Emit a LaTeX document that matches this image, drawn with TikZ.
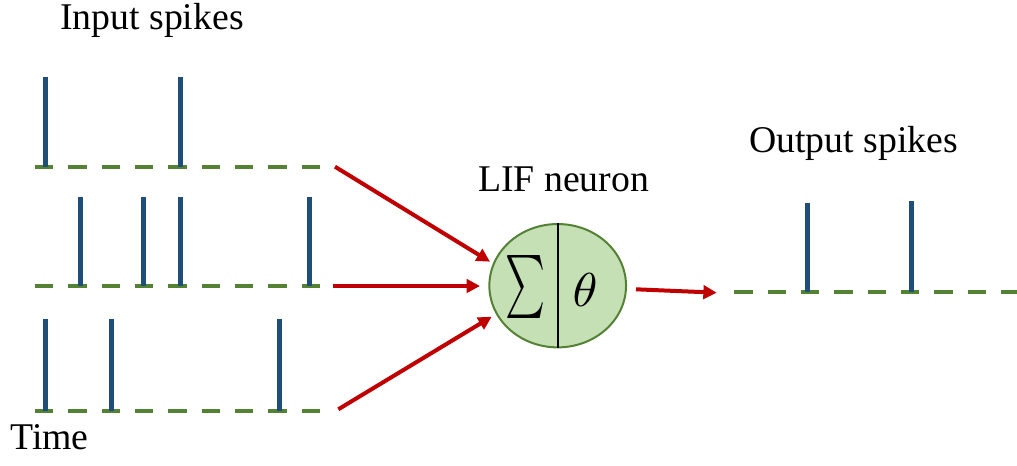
\documentclass[tikz,border=0pt]{standalone}
\usepackage{fontspec}
\setmainfont{Liberation Serif}
\usetikzlibrary{arrows.meta,shapes.geometric}
\definecolor{spikeblue}{HTML}{1F4E79}
\definecolor{railgreen}{HTML}{548235}
\definecolor{arrowred}{HTML}{C00000}
\definecolor{somafill}{HTML}{C5E0B4}
\begin{document}
\begin{tikzpicture}[x=0.75pt,y=-0.75pt,
  label/.style={font=\fontsize{28.3}{34}\selectfont, inner sep=0pt, anchor=base west},
  rail/.style={draw=railgreen, line width=3pt, dash pattern=on 13.75pt off 11.25pt},
  spike/.style={draw=spikeblue, line width=3.75pt},
  feed/.style={draw=arrowred, line width=3pt, -{Triangle[length=10pt,width=10pt]}},
  soma/.style={ellipse, draw=railgreen, line width=1.5pt, fill=somafill,
    minimum width=102.5pt, minimum height=92.5pt, inner sep=0pt}]
  \useasboundingbox[fill=white] (0,0) rectangle (1017,465);

  % time axes of the three input trains and the output train
  \draw[rail] (35,166.7) -- (321,166.7);
  \draw[rail] (35,286) -- (321,286);
  \draw[rail] (35,410.7) -- (321,410.7);
  \draw[rail] (734.3,292.3) -- (1030,292.3);

  % input spikes
  \foreach \x in {45,180} \draw[spike] (\x,76.7) -- (\x,166.7);
  \foreach \x in {80,143.3,180,309.3} \draw[spike] (\x,196.7) -- (\x,286);
  \foreach \x in {45,111.7,279} \draw[spike] (\x,319.3) -- (\x,410.7);

  % output spikes
  \draw[spike] (807.3,202.7) -- (807.3,292.3);
  \draw[spike] (911,201) -- (911,292.3);

  % LIF neuron: summation and threshold halves
  \node[soma] (neuron) at (557.7,285.7) {};
  \draw[black, line width=1.5pt] (neuron.north) -- (neuron.south);
  \node[inner sep=0pt] (sum) at (525,286.5) {\resizebox*{30pt}{47.25pt}{$\sum$}};
  \node[inner sep=0pt] (theta) at (585,289.7) {\resizebox*{18.75pt}{24.75pt}{$\theta$}};

  % arrow end points
  \coordinate (s1) at (335,166.7);
  \coordinate (e1) at (490,261.7);
  \coordinate (s2) at (333.3,286);
  \coordinate (e2) at (480,286);
  \coordinate (s3) at (338.3,409.3);
  \coordinate (e3) at (491.7,316.7);
  \coordinate (so) at (636,289.3);
  \coordinate (eo) at (716.7,292.7);

  \draw[feed] (s1) -- (e1);
  \draw[feed] (s2) -- (e2);
  \draw[feed] (s3) -- (e3);
  \draw[feed] (so) -- (eo);

  % labels
  \node[label] (inlabel) at (60,29.3) {Input spikes};
  \node[label] (neuronlabel) at (478,191.7) {LIF neuron};
  \node[label] (outlabel) at (749,152.7) {Output spikes};
  \node[label] (timelabel) at (10,449.3) {Time};
\end{tikzpicture}
\end{document}
